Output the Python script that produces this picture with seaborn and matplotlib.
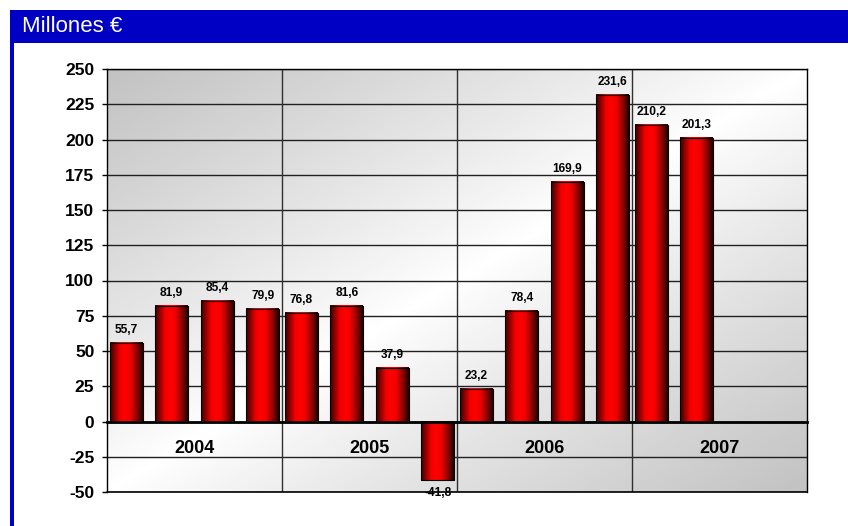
import matplotlib
matplotlib.use("Agg")
import matplotlib.pyplot as plt
from matplotlib.colors import LinearSegmentedColormap
from matplotlib.patches import Rectangle
import numpy as np
import pandas as pd
import seaborn as sns

# data (millones de euros, per quarter)
years = ["2004", "2005", "2006", "2007"]
quarters = ["T1", "T2", "T3", "T4"]
values_2004 = [55.7, 81.9, 85.4, 79.9]
values_2005 = [76.8, 81.6, 37.9, -41.8]
values_2006 = [23.2, 78.4, 169.9, 231.6]
values_2007 = [210.2, 201.3]
y_ticks = list(range(-50, 251, 25))

rows = []
for year, vals in zip(years, [values_2004, values_2005, values_2006, values_2007]):
    for q, v in zip(quarters, vals):
        rows.append({"year": year, "quarter": q, "value": v})
df = pd.DataFrame(rows)

sns.set_style("white")
plt.rcParams["font.family"] = ["Liberation Sans", "DejaVu Sans"]
plt.rcParams["text.color"] = "black"
plt.rcParams["xtick.color"] = "black"
plt.rcParams["ytick.color"] = "black"

fig = plt.figure(figsize=(8.48, 5.26), dpi=100)
fig.patch.set_facecolor("white")
ax = fig.add_axes([107 / 848, 1 - 492 / 526, 700 / 848, 423 / 526])

sns.barplot(data=df, x="year", y="value", hue="quarter", order=years, hue_order=quarters,
            palette={q: "#e00000" for q in quarters}, width=1.04, gap=0.285,
            errorbar=None, legend=False, ax=ax)

# cylinder-like shading on each bar
bar_cmap = LinearSegmentedColormap.from_list(
    "bar", [(0.0, "#3a0000"), (0.3, "#f00000"), (0.45, "#ff0000"), (0.62, "#f00000"),
            (0.88, "#700000"), (1.0, "#1a0000")])
grad = np.linspace(0, 1, 64).reshape(1, -1)
for p in list(ax.patches):
    h = p.get_height()
    if not np.isfinite(h) or h == 0:
        continue
    x0, y0, w = p.get_x(), p.get_y(), p.get_width()
    ax.imshow(grad, extent=[x0, x0 + w, y0, y0 + h], cmap=bar_cmap, aspect="auto",
              interpolation="bicubic", zorder=2.5)
    p.set_facecolor("none")
    p.set_edgecolor("black")
    p.set_linewidth(0.8)
    p.set_zorder(3)
    label = f"{h:.1f}".replace(".", ",")
    if h >= 0:
        ax.annotate(label, (x0 + w / 2, y0 + h), xytext=(0, 5), textcoords="offset points",
                    ha="center", va="bottom", fontsize=8.6, fontweight="bold", color="black")
    else:
        ax.annotate(label, (x0 + w / 2, y0 + h), xytext=(0, -5), textcoords="offset points",
                    ha="center", va="top", fontsize=8.6, fontweight="bold", color="black",
                    annotation_clip=False)

# plot-area background: grey corners fading to white along the diagonal
gx, gy = np.meshgrid(np.linspace(0, 1, 300), np.linspace(0, 1, 200))
dist = np.abs((gx + gy) / 2 - 0.5) * 2
ax.imshow(1 - 0.24 * dist ** 0.9, cmap="gray", vmin=0, vmax=1, extent=[0, 1, 0, 1],
          transform=ax.transAxes, aspect="auto", zorder=-10)

ax.set_xlim(-0.5, len(years) - 0.5)
ax.set_ylim(-50, 250)
ax.set_yticks(y_ticks)
ax.set_yticklabels([str(t) for t in y_ticks], fontsize=12.5, fontweight="bold", color="black")
ax.yaxis.grid(True, color="#202020", lw=1)
ax.xaxis.grid(False)
ax.set_axisbelow(True)
for i in range(1, len(years)):
    ax.axvline(i - 0.5, color="#303030", lw=1, zorder=1)

ax.set_xlabel("")
ax.set_ylabel("")
ax.spines["bottom"].set_position(("data", 0))
ax.spines["bottom"].set_linewidth(2)
ax.spines["bottom"].set_color("black")
ax.spines["bottom"].set_zorder(4)
for s in ["left", "right", "top"]:
    ax.spines[s].set_color("black")
    ax.spines[s].set_linewidth(1)
ax.axhline(-50, color="black", lw=1.2, clip_on=False)

ax.set_xticks(range(len(years)))
ax.set_xticklabels(years, fontsize=13, fontweight="bold", color="black")
ax.set_xticks([i + 0.5 for i in range(len(years) - 1)], minor=True)
ax.tick_params(axis="x", which="major", direction="in", length=4, width=1.2, pad=13)
ax.tick_params(axis="x", which="minor", direction="out", length=3, width=1.2)
ax.tick_params(axis="y", direction="out", length=3.6, width=1, pad=5.5, left=True)

# header band and left border
fig.add_artist(Rectangle((10 / 848, 1 - 43 / 526), 838 / 848, 33 / 526,
                         transform=fig.transFigure, facecolor="#0000c4", edgecolor="none"))
fig.add_artist(Rectangle((10 / 848, 0), 3.5 / 848, 1 - 43 / 526,
                         transform=fig.transFigure, facecolor="#0000c4", edgecolor="none"))
fig.text(22 / 848, 1 - 27 / 526, "Millones €", color="white", fontsize=16, va="center", ha="left")

fig.savefig("out.png", dpi=100)
